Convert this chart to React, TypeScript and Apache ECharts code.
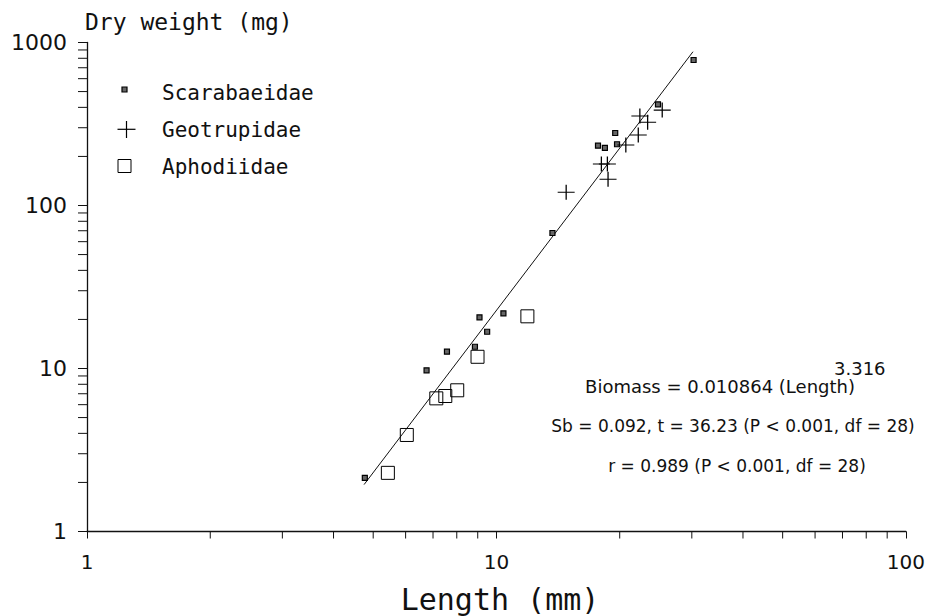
import React, { useEffect, useRef } from 'react';
import * as echarts from 'echarts';

const scarabLength = [4.77, 6.75, 7.57, 8.86, 9.09, 9.49, 10.4, 13.7, 17.7, 18.4, 19.5, 19.7, 24.8, 30.3];
const scarabWeight = [2.13, 9.75, 12.68, 13.6, 20.6, 16.8, 21.8, 67.8, 232.8, 226, 278.5, 237.5, 417.8, 781];
const geoLength = [14.8, 18.04, 18.66, 18.73, 20.7, 22.2, 22.4, 23.4, 25.4];
const geoWeight = [120.5, 179.7, 179.7, 144.8, 235, 270.7, 354, 324, 385];
const aphoLength = [5.43, 6.04, 7.13, 7.5, 8.02, 8.99, 11.9];
const aphoWeight = [2.29, 3.91, 6.56, 6.78, 7.35, 11.8, 20.9];
const fitLength = [4.75, 30.2];
const fitWeight = [1.94, 878];
const xMinorTicks = [2, 3, 4, 5, 6, 7, 8, 9, 20, 30, 40, 50, 60, 70, 80, 90];
const yMinorTicks = [2, 3, 4, 5, 6, 7, 8, 9, 20, 30, 40, 50, 60, 70, 80, 90, 200, 300, 400, 500, 600, 700, 800, 900];
const seriesNames = ['Scarabaeidae', 'Geotrupidae', 'Aphodiidae'];
const annotation = [
  'Biomass = 0.010864 (Length)',
  'Sb = 0.092, t = 36.23 (P < 0.001, df = 28)',
  'r = 0.989 (P < 0.001, df = 28)',
];
const exponentText = '3.316';

const zip = (a: number[], b: number[]) => a.map((v, i) => [v, b[i]]);

export default function App() {
  const ref = useRef<HTMLDivElement>(null);
  useEffect(() => {
    if (!ref.current) return;
    const chart = echarts.init(ref.current, undefined, { renderer: 'svg' });
    const ink = '#111';
    const sans = '"DejaVu Sans", sans-serif';
    const mono = '"DejaVu Sans Mono", monospace';
    chart.setOption({
      animation: false,
      backgroundColor: '#fff',
      grid: { left: 87, right: 19, top: 42.5, bottom: 84.5 },
      xAxis: {
        type: 'log',
        logBase: 10,
        min: 1,
        max: 100,
        axisLine: { show: true, lineStyle: { color: ink, width: 1.3 } },
        axisTick: { show: true, length: 7, lineStyle: { color: ink, width: 1 } },
        axisLabel: { color: ink, fontSize: 20, fontFamily: sans, margin: 20, formatter: (v: number) => String(v) },
        splitLine: { show: false },
      },
      yAxis: {
        type: 'log',
        logBase: 10,
        min: 1,
        max: 1000,
        axisLine: { show: true, lineStyle: { color: ink, width: 1.3 } },
        axisTick: { show: true, length: 9, lineStyle: { color: ink, width: 1 } },
        axisLabel: { color: ink, fontSize: 22, fontFamily: sans, margin: 20, formatter: (v: number) => String(v) },
        splitLine: { show: false },
      },
      series: [
        {
          type: 'line',
          name: 'fit',
          data: zip(fitLength, fitWeight),
          symbol: 'none',
          lineStyle: { color: ink, width: 1 },
          z: 1,
          silent: true,
        },
        {
          type: 'scatter',
          name: seriesNames[0],
          data: zip(scarabLength, scarabWeight),
          symbol: 'rect',
          symbolSize: 5,
          itemStyle: { color: '#666', borderColor: '#000', borderWidth: 1.2, opacity: 1 },
          z: 3,
        },
        {
          type: 'scatter',
          name: seriesNames[1],
          data: zip(geoLength, geoWeight),
          symbol: 'path://M8,0L8,16M0,8L16,8',
          symbolSize: [17, 15],
          itemStyle: { color: 'rgba(0,0,0,0)', borderColor: '#000', borderWidth: 1.2, opacity: 1 },
          z: 3,
        },
        {
          type: 'scatter',
          name: seriesNames[2],
          data: zip(aphoLength, aphoWeight),
          symbol: 'rect',
          symbolSize: 13,
          itemStyle: { color: 'rgba(0,0,0,0)', borderColor: '#000', borderWidth: 1, opacity: 1 },
          z: 3,
        },
        {
          type: 'custom',
          name: 'xMinor',
          data: xMinorTicks.map((v) => [v, 1]),
          clip: false,
          silent: true,
          renderItem: (params: any, api: any) => {
            const p = api.coord([api.value(0), 1]);
            return {
              type: 'line',
              shape: { x1: p[0], y1: p[1], x2: p[0], y2: p[1] + 7 },
              style: { stroke: ink, lineWidth: 1 },
            };
          },
        },
        {
          type: 'custom',
          name: 'yMinor',
          data: yMinorTicks.map((v) => [1, v]),
          clip: false,
          silent: true,
          renderItem: (params: any, api: any) => {
            const p = api.coord([1, api.value(1)]);
            return {
              type: 'line',
              shape: { x1: p[0] - 9, y1: p[1], x2: p[0], y2: p[1] },
              style: { stroke: ink, lineWidth: 1 },
            };
          },
        },
      ],
      graphic: [
        {
          type: 'text', x: 85, y: 21.5,
          style: { text: 'Dry weight (mg)', fill: ink, font: `23px ${mono}`, textAlign: 'left', textVerticalAlign: 'middle' },
        },
        {
          type: 'text', x: 500, y: 599,
          style: { text: 'Length (mm)', fill: ink, font: `30px ${mono}`, textAlign: 'center', textVerticalAlign: 'middle' },
        },
        // legend
        { type: 'rect', shape: { x: 122, y: 87, width: 5, height: 5 }, style: { fill: '#666', stroke: '#000', lineWidth: 1.2 } },
        { type: 'line', shape: { x1: 117.5, y1: 129.3, x2: 135.5, y2: 129.3 }, style: { stroke: '#000', lineWidth: 1.2 } },
        { type: 'line', shape: { x1: 126.5, y1: 121, x2: 126.5, y2: 138 }, style: { stroke: '#000', lineWidth: 1.2 } },
        { type: 'rect', shape: { x: 118, y: 159.5, width: 13, height: 13 }, style: { fill: 'none', stroke: '#000', lineWidth: 1 } },
        {
          type: 'text', x: 162, y: 92.5,
          style: { text: seriesNames[0], fill: ink, font: `21px ${mono}`, textAlign: 'left', textVerticalAlign: 'middle' },
        },
        {
          type: 'text', x: 162, y: 129.5,
          style: { text: seriesNames[1], fill: ink, font: `21px ${mono}`, textAlign: 'left', textVerticalAlign: 'middle' },
        },
        {
          type: 'text', x: 162, y: 166.5,
          style: { text: seriesNames[2], fill: ink, font: `21px ${mono}`, textAlign: 'left', textVerticalAlign: 'middle' },
        },
        // annotation
        {
          type: 'text', x: 834, y: 368,
          style: { text: exponentText, fill: ink, font: `18px ${sans}`, textAlign: 'left', textVerticalAlign: 'middle' },
        },
        {
          type: 'text', x: 720, y: 386,
          style: { text: annotation[0], fill: ink, font: `18px ${sans}`, textAlign: 'center', textVerticalAlign: 'middle' },
        },
        {
          type: 'text', x: 733, y: 426,
          style: { text: annotation[1], fill: ink, font: `17px ${sans}`, textAlign: 'center', textVerticalAlign: 'middle' },
        },
        {
          type: 'text', x: 737, y: 466,
          style: { text: annotation[2], fill: ink, font: `17px ${sans}`, textAlign: 'center', textVerticalAlign: 'middle' },
        },
      ],
    });
    return () => chart.dispose();
  }, []);
  return (
    <div
      ref={ref}
      style={{ position: 'fixed', left: 0, top: 0, width: 928, height: 616, background: '#fff' }}
    />
  );
}
